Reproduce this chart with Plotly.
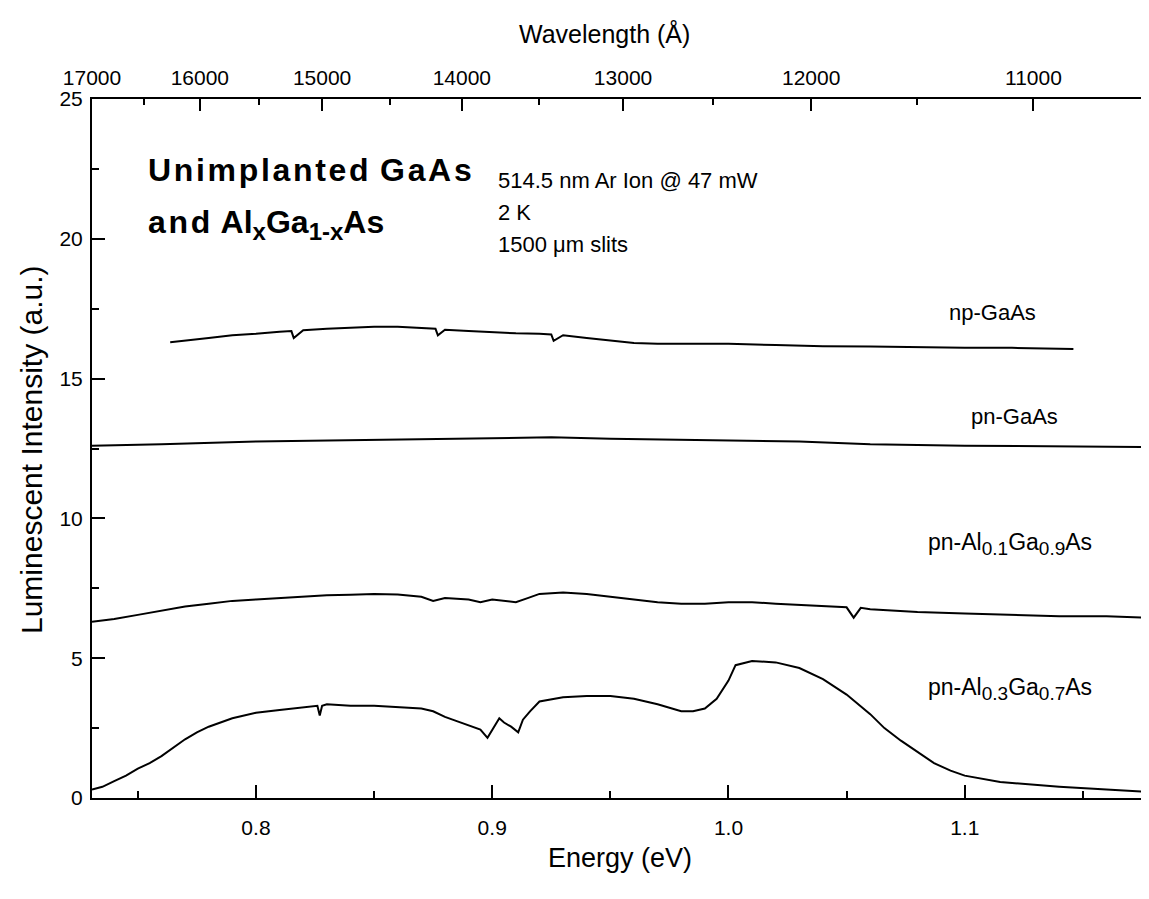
import plotly.graph_objects as go

# ---------------- data ----------------
HC = 12420.0  # eV*Angstrom conversion used for the top (wavelength) axis

energy_np = [0.7637, 0.770, 0.780, 0.790, 0.800, 0.810, 0.815, 0.816, 0.820, 0.830, 0.840, 0.850,
             0.860, 0.870, 0.876, 0.877, 0.880, 0.890, 0.900, 0.910, 0.920, 0.925, 0.926, 0.930,
             0.940, 0.950, 0.960, 0.970, 0.980, 0.990, 1.000, 1.020, 1.040, 1.060, 1.080, 1.100,
             1.120, 1.140, 1.146]
np_gaas = [16.30, 16.35, 16.45, 16.55, 16.60, 16.68, 16.70, 16.45, 16.73, 16.78, 16.82, 16.85,
           16.85, 16.80, 16.78, 16.55, 16.75, 16.70, 16.65, 16.62, 16.60, 16.58, 16.35, 16.55,
           16.45, 16.35, 16.27, 16.25, 16.25, 16.25, 16.25, 16.20, 16.16, 16.15, 16.12, 16.10,
           16.10, 16.08, 16.06]

energy_pn = [0.7306, 0.760, 0.800, 0.850, 0.900, 0.925, 0.950, 1.000, 1.030, 1.060, 1.100, 1.178]
pn_gaas = [12.60, 12.65, 12.75, 12.80, 12.85, 12.90, 12.85, 12.80, 12.75, 12.65, 12.60, 12.55]

energy_al01 = [0.7306, 0.740, 0.750, 0.760, 0.770, 0.780, 0.790, 0.800, 0.810, 0.820, 0.830,
               0.840, 0.850, 0.860, 0.870, 0.875, 0.880, 0.890, 0.895, 0.900, 0.905, 0.910,
               0.915, 0.920, 0.930, 0.940, 0.950, 0.960, 0.970, 0.980, 0.990, 1.000, 1.010,
               1.020, 1.030, 1.040, 1.050, 1.053, 1.056, 1.060, 1.070, 1.080, 1.100, 1.120,
               1.140, 1.160, 1.178]
al01 = [6.30, 6.40, 6.55, 6.70, 6.85, 6.95, 7.05, 7.10, 7.15, 7.20, 7.25,
        7.27, 7.30, 7.28, 7.20, 7.05, 7.15, 7.10, 7.00, 7.10, 7.05, 7.00,
        7.15, 7.30, 7.35, 7.30, 7.20, 7.10, 7.00, 6.95, 6.95, 7.00, 7.00,
        6.95, 6.90, 6.85, 6.82, 6.45, 6.80, 6.75, 6.70, 6.65, 6.60, 6.55,
        6.50, 6.50, 6.45]

energy_al03 = [0.7306, 0.735, 0.740, 0.745, 0.750, 0.755, 0.760, 0.765, 0.770, 0.775, 0.780,
               0.790, 0.800, 0.810, 0.820, 0.826, 0.827, 0.828, 0.830, 0.840, 0.850, 0.860,
               0.870, 0.875, 0.880, 0.885, 0.890, 0.895, 0.898, 0.900, 0.903, 0.905, 0.908,
               0.911, 0.913, 0.916, 0.920, 0.930, 0.940, 0.950, 0.960, 0.970, 0.980, 0.985,
               0.990, 0.995, 1.000, 1.003, 1.010, 1.020, 1.030, 1.040, 1.050, 1.060, 1.066,
               1.073, 1.080, 1.087, 1.094, 1.100, 1.115, 1.140, 1.160, 1.178]
al03 = [0.30, 0.40, 0.60, 0.80, 1.05, 1.25, 1.50, 1.80, 2.10, 2.35, 2.55,
        2.85, 3.05, 3.15, 3.25, 3.30, 2.95, 3.30, 3.35, 3.30, 3.30, 3.25,
        3.20, 3.10, 2.90, 2.75, 2.60, 2.45, 2.15, 2.45, 2.85, 2.70, 2.55,
        2.35, 2.80, 3.10, 3.45, 3.60, 3.65, 3.65, 3.55, 3.35, 3.10, 3.10,
        3.20, 3.55, 4.20, 4.75, 4.90, 4.85, 4.65, 4.25, 3.70, 3.00, 2.50,
        2.05, 1.65, 1.25, 0.98, 0.80, 0.57, 0.40, 0.30, 0.22]

x_range = [0.7306, 1.178]
y_range = [0, 25]
energy_major = [0.8, 0.9, 1.0, 1.1]
energy_minor = [0.75, 0.85, 0.95, 1.05, 1.15]
intensity_major = [0, 5, 10, 15, 20, 25]
intensity_minor = [2.5, 7.5, 12.5, 17.5, 22.5]
wl_major = [17000, 16000, 15000, 14000, 13000, 12000, 11000]
wl_minor = [16500, 15500, 14500, 13500, 12500, 11500]

# ---------------- figure ----------------
# page has an 8px body margin, so the figure is 8px smaller than the window
W, H = 1141, 891
L, R, T, B = 84, 0, 91, 101
PW, PH = W - L - R, H - T - B
OFF = 8
FONT = "Liberation Sans"


def px(x):  # screen pixel -> paper fraction
    return (x - OFF - L) / PW


def py(y):
    return (OFF + T + PH - y) / PH


fig = go.Figure()
line = dict(color="black", width=2)
for xs, ys in [(energy_np, np_gaas), (energy_pn, pn_gaas), (energy_al01, al01), (energy_al03, al03)]:
    fig.add_trace(go.Scatter(x=xs, y=ys, mode="lines", line=line, hoverinfo="skip"))
# invisible trace to attach the secondary (top / right) axes
fig.add_trace(go.Scatter(x=[None], y=[None], xaxis="x2", yaxis="y2", mode="lines", showlegend=False))

tick_common = dict(ticks="inside", tickcolor="black", tickwidth=2, showgrid=False, zeroline=False)

fig.update_layout(
    width=W, height=H,
    margin=dict(l=L, r=R, t=T, b=B),
    paper_bgcolor="white", plot_bgcolor="white",
    showlegend=False,
    font=dict(family=FONT, color="black", size=21),
    xaxis=dict(range=x_range, showline=True, linecolor="black", linewidth=2,
               tickvals=energy_major, ticktext=[f"{v:.1f}" for v in energy_major], ticklen=13,
               minor=dict(tickvals=energy_minor, ticks="inside", ticklen=7, tickwidth=2, tickcolor="black"),
               tickfont=dict(size=21), ticklabelstandoff=10, **tick_common),
    xaxis2=dict(range=x_range, overlaying="x", side="top", anchor="y", showline=True,
                linecolor="black", linewidth=2,
                tickvals=[HC / w for w in wl_major], ticktext=[str(w) for w in wl_major], ticklen=12,
                minor=dict(tickvals=[HC / w for w in wl_minor], ticks="inside", ticklen=6, tickwidth=2, tickcolor="black"),
                tickfont=dict(size=21), ticklabelstandoff=4, **tick_common),
    yaxis=dict(range=y_range, showline=True, linecolor="black", linewidth=2,
               tickvals=intensity_major, ticktext=[str(v) for v in intensity_major], ticklen=13,
               minor=dict(tickvals=intensity_minor, ticks="inside", ticklen=7, tickwidth=2, tickcolor="black"),
               tickfont=dict(size=21), ticklabelstandoff=3, **tick_common),
    yaxis2=dict(range=y_range, overlaying="y", side="right", anchor="x", showline=False,
                tickvals=intensity_major, ticklen=6, showticklabels=False,
                minor=dict(tickvals=intensity_minor, ticks="inside", ticklen=4, tickwidth=2, tickcolor="black"),
                **tick_common),
)


def ann(text, x, y, size, xanchor="left", yanchor="middle", bold=False, angle=0):
    fig.add_annotation(text=text, x=px(x), y=py(y), xref="paper", yref="paper",
                       xanchor=xanchor, yanchor=yanchor, showarrow=False, textangle=angle,
                       font=dict(family=FONT, size=size, color="black", weight="bold" if bold else "normal"))


def sub(t, size):
    return f"<sub><span style='font-size:{size}px'>{t}</span></sub>"


hs = "\u200a"
ann("Wavelength (Å)", 604, 33, 25, xanchor="center")
ann("Energy (eV)", 620, 858, 27, xanchor="center")
ann("Luminescent Intensity (a.u.)", 32, 450, 30, xanchor="center", angle=-90)

ann(hs.join("Unimplanted") + hs + " " + hs.join("GaAs"), 146, 170, 32, bold=True)
ann(hs.join("and") + hs + " " + "Al" + sub("x", 24) + "Ga" + sub("1-x", 24) + "As", 146, 224, 32, bold=True)
ann("514.5 nm Ar Ion @ 47 mW", 496, 181, 22)
ann("2 K", 496, 213, 22)
ann("1500 μm slits", 496, 245, 22)

ann("np-GaAs", 992, 312, 22, xanchor="center")
ann("pn-GaAs", 1014, 416, 22, xanchor="center")
ann("pn-Al" + sub("0.1", 19) + "Ga" + sub("0.9", 19) + "As", 926, 544, 23)
ann("pn-Al" + sub("0.3", 19) + "Ga" + sub("0.7", 19) + "As", 926, 689, 23)

fig.write_html("out.html")
